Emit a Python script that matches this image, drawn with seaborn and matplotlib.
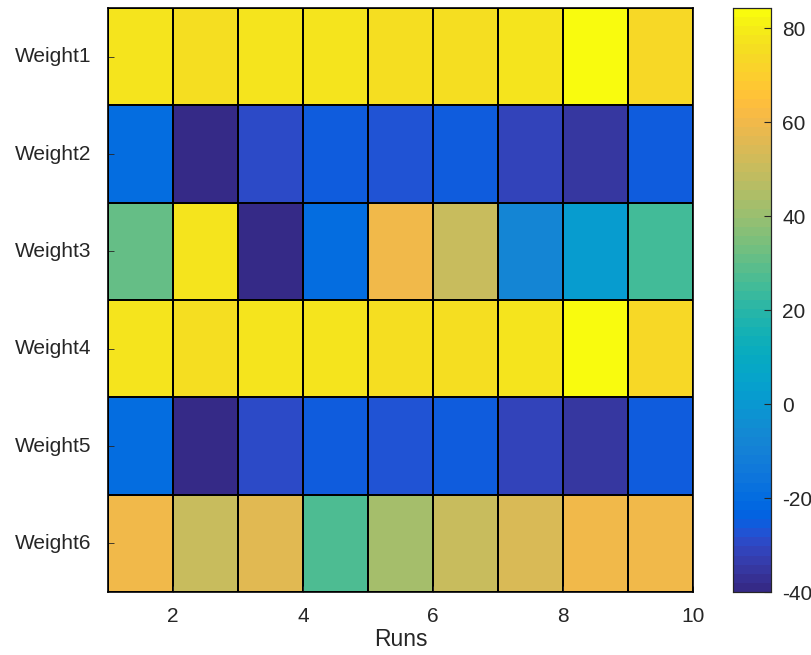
import numpy as np
import pandas as pd
import matplotlib
matplotlib.use("Agg")
import matplotlib.pyplot as plt
import seaborn as sns
from matplotlib.colors import ListedColormap

rows = ["Weight1", "Weight2", "Weight3", "Weight4", "Weight5", "Weight6"]
runs = [1, 2, 3, 4, 5, 6, 7, 8, 9]
w1 = [78, 75, 78, 77, 76, 76, 77, 84, 73]
w2 = [-20, -39, -29, -25, -27, -25, -31, -35, -25]
w3 = [31, 78, -39, -20, 60, 51, -8, 1, 26]
w4 = [78, 75, 78, 77, 76, 76, 77, 84, 73]
w5 = [-20, -39, -29, -25, -27, -25, -31, -35, -25]
w6 = [60, 51, 57, 27, 43, 51, 55, 60, 60]
xtick_vals = [2, 4, 6, 8, 10]
cbar_ticks = [-40, -20, 0, 20, 40, 60, 80]

parula = [
[0.2081,0.1663,0.5292],[0.2116,0.1898,0.5777],[0.2123,0.2138,0.6270],[0.2081,0.2386,0.6771],
[0.1959,0.2645,0.7279],[0.1707,0.2919,0.7792],[0.1253,0.3242,0.8303],[0.0591,0.3598,0.8683],
[0.0117,0.3875,0.8820],[0.0060,0.4086,0.8828],[0.0165,0.4266,0.8786],[0.0329,0.4430,0.8720],
[0.0498,0.4586,0.8641],[0.0629,0.4737,0.8554],[0.0723,0.4887,0.8467],[0.0779,0.5040,0.8384],
[0.0793,0.5200,0.8312],[0.0749,0.5375,0.8263],[0.0641,0.5570,0.8240],[0.0488,0.5772,0.8228],
[0.0343,0.5966,0.8199],[0.0265,0.6137,0.8135],[0.0239,0.6287,0.8038],[0.0231,0.6418,0.7913],
[0.0228,0.6535,0.7768],[0.0267,0.6642,0.7607],[0.0384,0.6743,0.7436],[0.0590,0.6838,0.7254],
[0.0843,0.6928,0.7062],[0.1133,0.7015,0.6859],[0.1453,0.7098,0.6646],[0.1801,0.7177,0.6424],
[0.2178,0.7250,0.6193],[0.2586,0.7317,0.5954],[0.3022,0.7376,0.5712],[0.3482,0.7424,0.5473],
[0.3953,0.7459,0.5244],[0.4420,0.7481,0.5033],[0.4871,0.7491,0.4840],[0.5300,0.7491,0.4661],
[0.5709,0.7485,0.4494],[0.6099,0.7473,0.4337],[0.6473,0.7456,0.4188],[0.6834,0.7435,0.4044],
[0.7184,0.7411,0.3905],[0.7525,0.7384,0.3768],[0.7858,0.7356,0.3633],[0.8185,0.7327,0.3498],
[0.8507,0.7299,0.3360],[0.8824,0.7274,0.3217],[0.9139,0.7258,0.3063],[0.9450,0.7261,0.2886],
[0.9739,0.7314,0.2666],[0.9938,0.7455,0.2403],[0.9990,0.7653,0.2164],[0.9955,0.7861,0.1967],
[0.9880,0.8066,0.1794],[0.9789,0.8271,0.1633],[0.9697,0.8481,0.1475],[0.9626,0.8705,0.1309],
[0.9589,0.8949,0.1132],[0.9598,0.9218,0.0948],[0.9661,0.9514,0.0755],[0.9763,0.9831,0.0538]]
cmap = ListedColormap(parula)

df = pd.DataFrame([w1, w2, w3, w4, w5, w6], index=rows, columns=runs)

plt.rcParams["font.family"] = ["Liberation Sans", "DejaVu Sans"]
fig = plt.figure(figsize=(8.12, 6.55), dpi=100)
W, H = 812, 655
ax = fig.add_axes([108/W, 1-592/H, (693-108)/W, (592-8)/H])
cax = fig.add_axes([733/W, 1-592/H, (771-733)/W, (592-8)/H])

sns.heatmap(df, ax=ax, cbar_ax=cax, cmap=cmap, vmin=-40, vmax=84.3,
            linewidths=1.2, linecolor="black", cbar=True)

txt = "#262626"
ax.set_xticks([v - 1 for v in xtick_vals])
ax.set_xticklabels([str(v) for v in xtick_vals], rotation=0, fontsize=15, color=txt)
ax.set_yticks(np.arange(len(rows)) + 0.5)
ax.set_yticklabels(rows, rotation=0, fontsize=15, color=txt)
ax.tick_params(axis="x", direction="in", length=4, width=0.6, color=txt, pad=11)
ax.tick_params(axis="y", direction="in", length=4, width=0.6, color=txt, pad=12)
ax.set_xlabel("Runs", fontsize=16.5, color=txt, labelpad=1)
ax.set_ylabel("")
for s in ax.spines.values():
    s.set_visible(True)
    s.set_color("black")
    s.set_linewidth(1.2)

cax.set_yticks(cbar_ticks)
cax.set_yticklabels([str(v) for v in cbar_ticks], fontsize=15, color=txt)
cax.tick_params(direction="in", length=5, width=0.8, color=txt, pad=8, right=True, left=False)
for s in cax.spines.values():
    s.set_visible(True)
    s.set_color(txt)
    s.set_linewidth(0.8)

fig.savefig("out.png", dpi=100)
